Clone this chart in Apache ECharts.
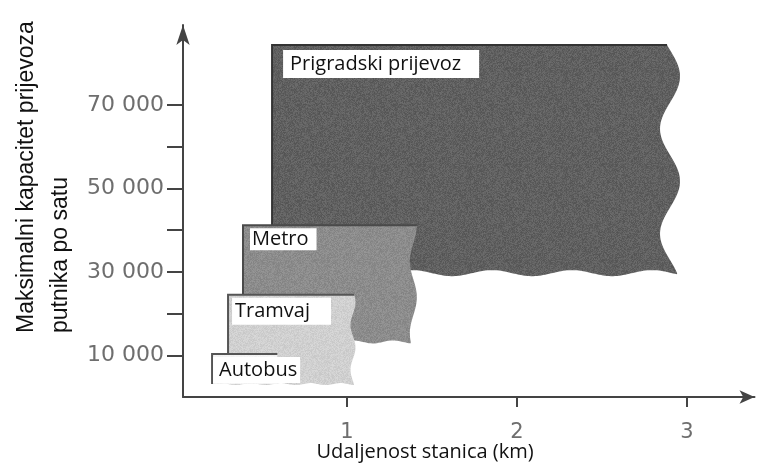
<!DOCTYPE html>
<html><head><meta charset="utf-8">
<script src="https://cdn.jsdelivr.net/npm/echarts@6/dist/echarts.min.js"></script>
<style>html,body{margin:0;padding:0;background:#fff}#c{width:764px;height:464px}</style>
</head><body><div id="c"></div>
<script>
// ---- data ----
const modes = ['Prigradski prijevoz', 'Metro', 'Tramvaj', 'Autobus'];
const minDistKm = [0.559, 0.388, 0.30, 0.206];
const maxDistKm = [2.90, 1.39, 1.035, 0.59];
const minCapacity = [29700, 13200, 3100, 3100];
const maxCapacity = [84400, 41200, 24500, 10300];
const yTickValues = [10000, 20000, 30000, 40000, 50000, 60000, 70000];
const yLabelValues = [10000, 30000, 50000, 70000];
const xTickValues = [1, 2, 3];

// ---- styles ----
const fillBase = [[96, 96, 96], [140, 140, 140], [208, 208, 208], [244, 244, 244]];
const noiseAmp = [26, 22, 18, 6];
const borderColors = ['#333333', '#4a4a4a', '#555555', '#555555'];
const waveAmp = [10, 3.5, 2.5, 0];
const wavePeriod = [105, 72, 45, 10];
const wavePhase = [-0.3, 1.57, 0.5, 0];
const bottomAmp = [3, 1.5, 1, 0];
const bottomPeriod = [80, 40, 30, 10];
const labelOffset = [[11, 5], [7, 3], [4, 3], [1, 3]];
const labelPadding = [[4, 18, 4, 7], [1, 8, 1, 2], [3, 21, 4, 3], [3, 3, 3, 6]];

function noisePattern(rgb, amp) {
  const c = document.createElement('canvas');
  c.width = 96; c.height = 96;
  const ctx = c.getContext('2d');
  const img = ctx.createImageData(96, 96);
  let s = 12345;
  for (let p = 0; p < 96 * 96; p++) {
    s = (s * 1103515245 + 12345) & 0x7fffffff;
    const d = ((s / 0x7fffffff) - 0.5) * amp;
    img.data[p * 4] = Math.max(0, Math.min(255, rgb[0] + d));
    img.data[p * 4 + 1] = Math.max(0, Math.min(255, rgb[1] + d));
    img.data[p * 4 + 2] = Math.max(0, Math.min(255, rgb[2] + d));
    img.data[p * 4 + 3] = 255;
  }
  ctx.putImageData(img, 0, 0);
  return { image: c, repeat: 'repeat' };
}
const patterns = fillBase.map((b, i) => noisePattern(b, noiseAmp[i]));

const seriesData = modes.map((m, i) => [minDistKm[i], maxDistKm[i], minCapacity[i], maxCapacity[i]]);

function fmt(v) { return String(v).replace(/\B(?=(\d{3})+(?!\d))/g, ' '); }

const chart = echarts.init(document.getElementById('c'), null, { renderer: 'canvas' });
chart.setOption({
  animation: false,
  backgroundColor: '#ffffff',
  grid: { left: 183, right: 9.5, top: 25, bottom: 67, outerBoundsMode: 'none' },
  xAxis: {
    type: 'value', min: 0.035, max: 3.397,
    axisLine: { show: true, onZero: false, lineStyle: { color: '#444', width: 2 }, symbol: ['none', 'arrow'], symbolSize: [10, 15] },
    axisTick: { show: true, customValues: xTickValues, length: 10, lineStyle: { color: '#444', width: 2 } },
    axisLabel: { show: true, customValues: xTickValues, margin: 25, color: '#6e6e6e', fontSize: 21, fontFamily: 'DejaVu Sans' },
    splitLine: { show: false }
  },
  yAxis: {
    type: 'value', min: 0, max: 89200,
    axisLine: { show: true, onZero: false, lineStyle: { color: '#444', width: 2 }, symbol: ['none', 'arrow'], symbolSize: [10, 20] },
    axisTick: { show: true, customValues: yTickValues, length: 16, lineStyle: { color: '#444', width: 2 } },
    axisLabel: { show: true, customValues: yLabelValues, margin: 19, color: '#6e6e6e', fontSize: 22, fontFamily: 'DejaVu Sans', formatter: fmt },
    splitLine: { show: false }
  },
  graphic: [
    { type: 'text', x: 425, y: 452, style: { text: 'Udaljenost stanica (km)', align: 'center', verticalAlign: 'middle', textAlign: 'center', textVerticalAlign: 'middle', font: '20px "Open Sans"', fill: '#111' } },
    { type: 'text', x: 10, y: 333, rotation: Math.PI / 2, style: { text: 'Maksimalni kapacitet prijevoza\nputnika po satu', align: 'left', verticalAlign: 'top', textAlign: 'left', textVerticalAlign: 'top', font: '23px "Liberation Sans"', lineHeight: 34, fill: '#111' } }
  ],
  series: [{
    type: 'custom',
    clip: false,
    data: seriesData,
    renderItem: function (params, api) {
      const i = params.dataIndex;
      const tl = api.coord([api.value(0), api.value(3)]);
      const br = api.coord([api.value(1), api.value(2)]);
      const x0 = tl[0], y1 = tl[1], x1 = br[0], y0 = br[1];
      const h = y0 - y1;
      const A = waveAmp[i], P = wavePeriod[i], ph = wavePhase[i];
      const pts = [[x0, y1]];
      for (let t = 0; t <= h; t += 2) pts.push([x1 + A * Math.sin(2 * Math.PI * t / P + ph), y1 + t]);
      const xEnd = x1 + A * Math.sin(2 * Math.PI * h / P + ph);
      pts.push([xEnd, y0]);
      for (let s = xEnd - x0; s >= 0; s -= 2) pts.push([x0 + s, y0 + bottomAmp[i] * Math.sin(2 * Math.PI * s / bottomPeriod[i])]);
      pts.push([x0, y0]);
      const xTop = x1 + A * Math.sin(ph);
      return {
        type: 'group',
        children: [
          { type: 'polygon', shape: { points: pts }, style: { fill: patterns[i], stroke: null } },
          { type: 'polyline', shape: { points: [[x0, y0], [x0, y1], [xTop, y1]] }, style: { stroke: borderColors[i], lineWidth: 2, fill: null } },
          { type: 'text', x: x0 + labelOffset[i][0], y: y1 + labelOffset[i][1],
            style: { text: modes[i], fill: '#111', font: '20px "Open Sans"', backgroundColor: '#ffffff', padding: labelPadding[i], lineHeight: 20, align: 'left', verticalAlign: 'top' } }
        ]
      };
    }
  }]
});
</script>
</body></html>
